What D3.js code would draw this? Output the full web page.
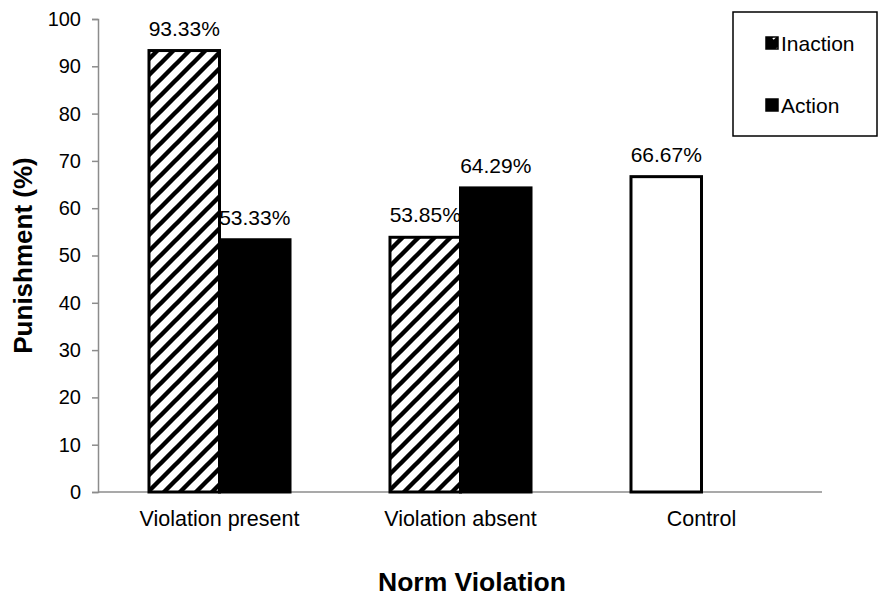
<!DOCTYPE html>
<html>
<head>
<meta charset="utf-8">
<script src="https://cdn.jsdelivr.net/npm/d3@7"></script>
<style>
  html, body { margin: 0; padding: 0; background: #fff; }
  svg { display: block; font-family: "Liberation Sans", Arial, sans-serif; }
</style>
</head>
<body>
<svg id="chart" width="879" height="599"></svg>
<script>
// Punishment rate by norm-violation condition
const categories = ["Violation present", "Violation absent", "Control"];
const inaction = [93.33, 53.85, null];
const action = [53.33, 64.29, null];
const control = [null, null, 66.67];
const yTicks = [0, 10, 20, 30, 40, 50, 60, 70, 80, 90, 100];
const seriesNames = ["Inaction", "Action"];

const svg = d3.select("#chart");

const x = d3.scaleBand().domain(categories).range([99, 822]).paddingInner(0).paddingOuter(0);
const xSub = d3.scaleBand().domain(seriesNames).range([0, x.bandwidth()])
  .paddingInner(0).paddingOuter(0.709);
const y = d3.scaleLinear().domain([0, 100]).range([492, 19]);

// diagonal hatch for the Inaction bars
const defs = svg.append("defs");
const pat = defs.append("pattern")
  .attr("id", "hatch")
  .attr("patternUnits", "userSpaceOnUse")
  .attr("width", 16).attr("height", 16);
pat.append("rect").attr("width", 16).attr("height", 16).attr("fill", "#fff");
pat.append("path")
  .attr("d", "M-4,4 L4,-4 M0,16 L16,0 M12,20 L20,12")
  .attr("stroke", "#000").attr("stroke-width", 4.4);

const smallPat = defs.append("pattern")
  .attr("id", "hatchSmall")
  .attr("patternUnits", "userSpaceOnUse")
  .attr("width", 14).attr("height", 14);
smallPat.append("rect").attr("width", 14).attr("height", 14).attr("fill", "#000");
smallPat.append("path").attr("d", "M3,11 L8,6").attr("stroke", "#fff").attr("stroke-width", 2);

// axes
const yAxis = svg.append("g")
  .attr("transform", `translate(${x.range()[0] - 1},0)`)
  .call(d3.axisLeft(y).tickValues(yTicks).tickSize(6).tickPadding(11).tickSizeOuter(6));
yAxis.select(".domain").attr("stroke", "#8c8c8c").attr("stroke-width", 1.5);
yAxis.selectAll(".tick line").attr("stroke", "#8c8c8c").attr("stroke-width", 1.5);
yAxis.selectAll(".tick text").attr("font-size", 20).attr("fill", "#000")
  .attr("font-family", "Liberation Sans, Arial, sans-serif");

const xAxis = svg.append("g")
  .attr("transform", `translate(0,${y(0)})`)
  .call(d3.axisBottom(x).tickSize(0).tickPadding(19).tickSizeOuter(0));
xAxis.select(".domain").attr("stroke", "#8c8c8c").attr("stroke-width", 1.5)
  .attr("d", `M${x.range()[0] - 1},0H${x.range()[1]}`);
xAxis.selectAll(".tick text").attr("font-size", 21.5).attr("fill", "#000")
  .attr("font-family", "Liberation Sans, Arial, sans-serif")
  .attr("dy", "0.71em");

// bars
const bars = svg.append("g");
function drawSeries(values, slot, fill, cls) {
  const data = categories.map((c, i) => ({ c, v: values[i] })).filter(d => d.v != null);
  bars.selectAll("rect." + cls).data(data).join("rect")
    .attr("class", cls)
    .attr("x", d => x(d.c) + xSub(slot))
    .attr("y", d => y(d.v))
    .attr("width", xSub.bandwidth())
    .attr("height", d => y(0) - y(d.v))
    .attr("fill", fill)
    .attr("stroke", "#000")
    .attr("stroke-width", 3);
  bars.selectAll("text." + cls).data(data).join("text")
    .attr("class", cls)
    .attr("x", d => x(d.c) + xSub(slot) + xSub.bandwidth() / 2)
    .attr("y", d => y(d.v) - 15)
    .attr("text-anchor", "middle")
    .attr("font-size", 21)
    .text(d => d.v.toFixed(2) + "%");
}
drawSeries(inaction, "Inaction", "url(#hatch)", "inaction");
drawSeries(action, "Action", "#000", "action");
drawSeries(control, "Inaction", "#fff", "control");

// axis titles
svg.append("text")
  .attr("transform", `translate(32,${(y(0) + y(100)) / 2}) rotate(-90)`)
  .attr("text-anchor", "middle")
  .attr("font-weight", "bold")
  .attr("font-size", 26)
  .text("Punishment (%)");
svg.append("text")
  .attr("x", 472).attr("y", 591)
  .attr("text-anchor", "middle")
  .attr("font-weight", "bold")
  .attr("font-size", 26.5)
  .text("Norm Violation");

// legend
const legend = svg.append("g");
legend.append("rect")
  .attr("x", 733).attr("y", 12).attr("width", 144).attr("height", 124)
  .attr("fill", "#fff").attr("stroke", "#000").attr("stroke-width", 1.5);
const legendItems = [
  { name: seriesNames[0], fill: "url(#hatchSmall)", cy: 43 },
  { name: seriesNames[1], fill: "#000", cy: 105 }
];
const li = legend.selectAll("g.item").data(legendItems).join("g").attr("class", "item");
li.append("rect")
  .attr("x", 766).attr("y", d => d.cy - 6).attr("width", 12).attr("height", 12)
  .attr("fill", d => d.fill).attr("stroke", "#000").attr("stroke-width", 1.5);
li.append("text")
  .attr("x", 781).attr("y", d => d.cy).attr("dy", "0.36em")
  .attr("font-size", 21)
  .text(d => d.name);
</script>
</body>
</html>
